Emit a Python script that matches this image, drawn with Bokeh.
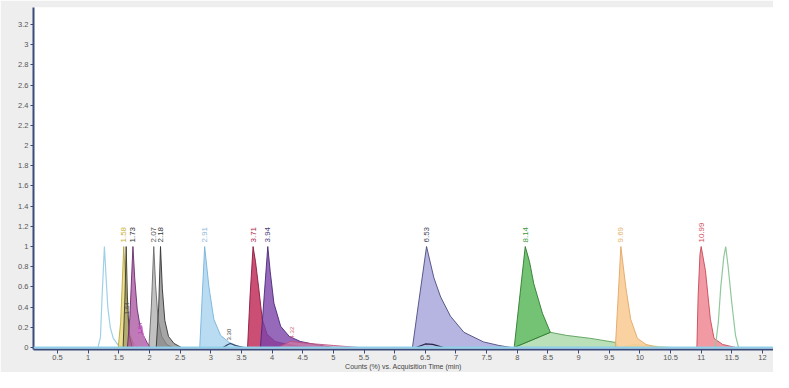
import math
from bokeh.plotting import figure
from bokeh.models import FixedTicker, Span
from bokeh.embed import file_html
from bokeh.resources import INLINE
from bokeh.core.properties import value

# ---- axis ticks ----
x_ticks = [0.5, 1, 1.5, 2, 2.5, 3, 3.5, 4, 4.5, 5, 5.5, 6, 6.5, 7, 7.5, 8,
           8.5, 9, 9.5, 10, 10.5, 11, 11.5, 12]
x_tick_labels = ["0.5", "1", "1.5", "2", "2.5", "3", "3.5", "4", "4.5", "5", "5.5", "6",
                 "6.5", "7", "7.5", "8", "8.5", "9", "9.5", "10", "10.5", "11", "11.5", "12"]
y_ticks = [0, 0.2, 0.4, 0.6, 0.8, 1, 1.2, 1.4, 1.6, 1.8, 2, 2.2, 2.4, 2.6, 2.8, 3, 3.2]
y_tick_labels = ["0", "0.2", "0.4", "0.6", "0.8", "1", "1.2", "1.4", "1.6", "1.8", "2",
                 "2.2", "2.4", "2.6", "2.8", "3", "3.2"]
x_title = "Counts (%) vs. Acquisition Time (min)"

# ---- peak traces (time in min, counts %) ----
p127_t = [1.16, 1.20, 1.23, 1.265, 1.29, 1.32, 1.36, 1.41, 1.48, 1.56]
p127_v = [0.0, 0.10, 0.55, 1.00, 0.72, 0.40, 0.20, 0.09, 0.03, 0.0]

p158_t = [1.49, 1.53, 1.55, 1.58, 1.61, 1.64, 1.68, 1.73, 1.80]
p158_v = [0.0, 0.25, 0.55, 1.00, 0.65, 0.32, 0.12, 0.05, 0.0]

p162_t = [1.57, 1.60, 1.62, 1.64, 1.67, 1.72]
p162_v = [0.0, 0.50, 1.00, 0.50, 0.12, 0.0]

p173_t = [1.64, 1.68, 1.73, 1.76, 1.80, 1.85, 1.90, 1.96, 2.02]
p173_v = [0.0, 0.30, 1.00, 0.68, 0.38, 0.20, 0.12, 0.05, 0.0]

p184_t = [1.76, 1.80, 1.83, 1.85, 1.87, 1.89, 1.92, 1.96]
p184_v = [0.0, 0.12, 0.20, 0.14, 0.22, 0.15, 0.08, 0.0]

p207_t = [1.99, 2.03, 2.07, 2.10, 2.14, 2.20, 2.28, 2.38]
p207_v = [0.0, 0.40, 1.00, 0.62, 0.28, 0.11, 0.03, 0.0]

p218_t = [2.11, 2.15, 2.18, 2.21, 2.25, 2.31, 2.40, 2.52]
p218_v = [0.0, 0.40, 1.00, 0.58, 0.27, 0.11, 0.04, 0.0]

p290_t = [2.82, 2.86, 2.90, 2.97, 3.05, 3.16, 3.30, 3.50]
p290_v = [0.0, 0.50, 1.00, 0.60, 0.28, 0.12, 0.05, 0.0]

p330_t = [3.20, 3.28, 3.32, 3.40, 3.55]
p330_v = [0.0, 0.03, 0.04, 0.02, 0.0]

p369_t = [3.60, 3.64, 3.69, 3.73, 3.78, 3.84, 3.92, 4.05, 4.25, 4.60]
p369_v = [0.0, 0.50, 1.00, 0.85, 0.60, 0.28, 0.13, 0.06, 0.03, 0.0]

p393_t = [3.81, 3.87, 3.93, 3.97, 4.03, 4.14, 4.28, 4.46, 4.70, 5.00]
p393_v = [0.0, 0.50, 1.00, 0.75, 0.44, 0.21, 0.11, 0.06, 0.03, 0.0]

p432_t = [4.10, 4.30, 4.60, 5.00, 5.40]
p432_v = [0.0, 0.06, 0.04, 0.02, 0.0]

p652_t = [6.29, 6.39, 6.52, 6.64, 6.75, 6.91, 7.13, 7.45, 7.70, 7.90]
p652_v = [0.0, 0.44, 1.00, 0.69, 0.50, 0.31, 0.15, 0.055, 0.02, 0.0]

p655_t = [6.35, 6.50, 6.62, 6.80]
p655_v = [0.0, 0.035, 0.03, 0.0]

p813_t = [7.95, 8.04, 8.13, 8.20, 8.27, 8.41, 8.54]
p813_v = [0.0, 0.50, 1.00, 0.85, 0.63, 0.34, 0.15]

p850_t = [7.95, 8.54, 8.80, 9.20, 9.60, 9.65]
p850_v = [0.0, 0.15, 0.12, 0.09, 0.05, 0.0]

p969_t = [9.60, 9.65, 9.69, 9.77, 9.85, 9.96, 10.10, 10.30]
p969_v = [0.0, 0.55, 1.00, 0.60, 0.28, 0.09, 0.03, 0.0]

p990_t = [9.70, 9.90, 10.20, 10.50]
p990_v = [0.0, 0.03, 0.015, 0.0]

p1100_t = [10.93, 10.95, 10.98, 11.00, 11.07, 11.15, 11.21, 11.35, 11.56]
p1100_v = [0.0, 0.50, 0.92, 1.00, 0.76, 0.28, 0.09, 0.03, 0.0]

p1140_t = [11.23, 11.28, 11.32, 11.37, 11.40, 11.44, 11.50, 11.56, 11.61]
p1140_v = [0.0, 0.25, 0.60, 0.90, 1.00, 0.80, 0.44, 0.12, 0.0]

# ---- peak apex labels ----
lab_t = [1.58, 1.73, 2.07, 2.18, 2.90, 3.69, 3.93, 6.52, 8.13, 9.69, 11.00]
lab_v = [1.00, 1.00, 1.00, 1.00, 1.00, 1.00, 1.00, 1.00, 1.00, 1.00, 1.00]
lab_txt = ["1.58", "1.73", "2.07", "2.18", "2.91", "3.71", "3.94", "6.53", "8.14", "9.69", "10.99"]
lab_col = ["#c9b23a", "#333333", "#555555", "#333333", "#8fb8d8", "#b0284e",
           "#4a3a7a", "#44445a", "#3f9a3f", "#e7b36a", "#d0505e"]

small_t = [1.63, 1.85, 3.30, 4.32]
small_v = [0.30, 0.10, 0.04, 0.06]
small_txt = ["1.64", "1.84", "3.30", "4.32"]
small_col = ["#444444", "#b040b0", "#444444", "#d06070"]

W, H = 773, 372
p = figure(width=W, height=H, output_backend="svg", toolbar_location=None,
           x_range=(0.108, 12.18), y_range=(-0.02, 3.368),
           min_border_left=33, min_border_right=0, min_border_top=7, min_border_bottom=0)
p.border_fill_color = "#eeeeee"
p.background_fill_color = "white"
p.outline_line_color = None
p.xgrid.visible = False
p.ygrid.visible = False

axis_col = "#3b4a7a"
for ax in (p.xaxis, p.yaxis):
    ax.axis_line_color = axis_col
    ax.axis_line_width = 2
    ax.major_tick_line_color = axis_col
    ax.minor_tick_line_color = None
    ax.major_tick_in = 0
    ax.major_label_text_font = "Liberation Sans"
    ax.major_label_text_font_size = "7.5px"
    ax.major_label_text_color = "#555555"

p.xaxis.ticker = FixedTicker(ticks=x_ticks)
p.xaxis.major_label_overrides = dict(zip(x_ticks, x_tick_labels))
p.xaxis.major_tick_out = 4
p.xaxis.major_label_standoff = 1
p.xaxis.axis_label = x_title
p.xaxis.axis_label_standoff = 0
p.xaxis.axis_label_text_font = "Liberation Sans"
p.xaxis.axis_label_text_font_size = "7px"
p.xaxis.axis_label_text_font_style = "normal"
p.xaxis.axis_label_text_color = "#444444"
p.yaxis.ticker = FixedTicker(ticks=y_ticks)
p.yaxis.major_label_overrides = dict(zip(y_ticks, y_tick_labels))
p.yaxis.major_tick_out = 3
p.yaxis.major_label_standoff = 2

# baseline
p.add_layout(Span(location=0, dimension="width", line_color="#8fd0ea", line_width=2))

def filled(t, v, fill, line, alpha=0.7):
    p.patch(t, v, fill_color=fill, fill_alpha=alpha, line_color=line, line_width=1, line_alpha=0.9)

def outline(t, v, line):
    p.line(t, v, line_color=line, line_width=1.2)

outline(p127_t, p127_v, "#9fd0e6")
filled(p158_t, p158_v, "#e8d46e", "#b9a53a", 0.75)
filled(p162_t, p162_v, "#8a8a5a", "#3a3a2a", 0.6)
filled(p173_t, p173_v, "#a8509f", "#6a2a6a", 0.75)
outline(p184_t, p184_v, "#d070c8")
filled(p207_t, p207_v, "#a6a6a6", "#6a6a6a", 0.7)
filled(p218_t, p218_v, "#808080", "#333333", 0.7)
filled(p290_t, p290_v, "#a9d3ef", "#78b2da", 0.8)
outline(p330_t, p330_v, "#334466")
filled(p369_t, p369_v, "#c2305c", "#8a1a40", 0.85)
filled(p393_t, p393_v, "#7c44aa", "#4a2878", 0.8)
filled(p432_t, p432_v, "#e080a0", "#c05080", 0.6)
filled(p652_t, p652_v, "#a9a8dc", "#4a4a80", 0.85)
outline(p655_t, p655_v, "#222244")
filled(p850_t, p850_v, "#a8d8a8", "#5aa05a", 0.8)
filled(p813_t, p813_v, "#5cb85c", "#2f7a2f", 0.85)
filled(p990_t, p990_v, "#e8f0a0", "#c8d880", 0.8)
filled(p969_t, p969_v, "#f9ca92", "#e2a664", 0.85)
filled(p1100_t, p1100_v, "#f08894", "#c84858", 0.85)
outline(p1140_t, p1140_v, "#90c89c")

p.text(x=lab_t, y=lab_v, text=lab_txt, angle=math.pi / 2, y_offset=-4,
       text_align="left", text_baseline="middle", text_color=lab_col,
       text_font=value("Liberation Sans"), text_font_size="8px")
p.text(x=small_t, y=small_v, text=small_txt, angle=math.pi / 2, y_offset=-3,
       text_align="left", text_baseline="middle", text_color=small_col,
       text_font=value("Liberation Sans"), text_font_size="6px")

open("out.html", "w").write(file_html(p, INLINE))
